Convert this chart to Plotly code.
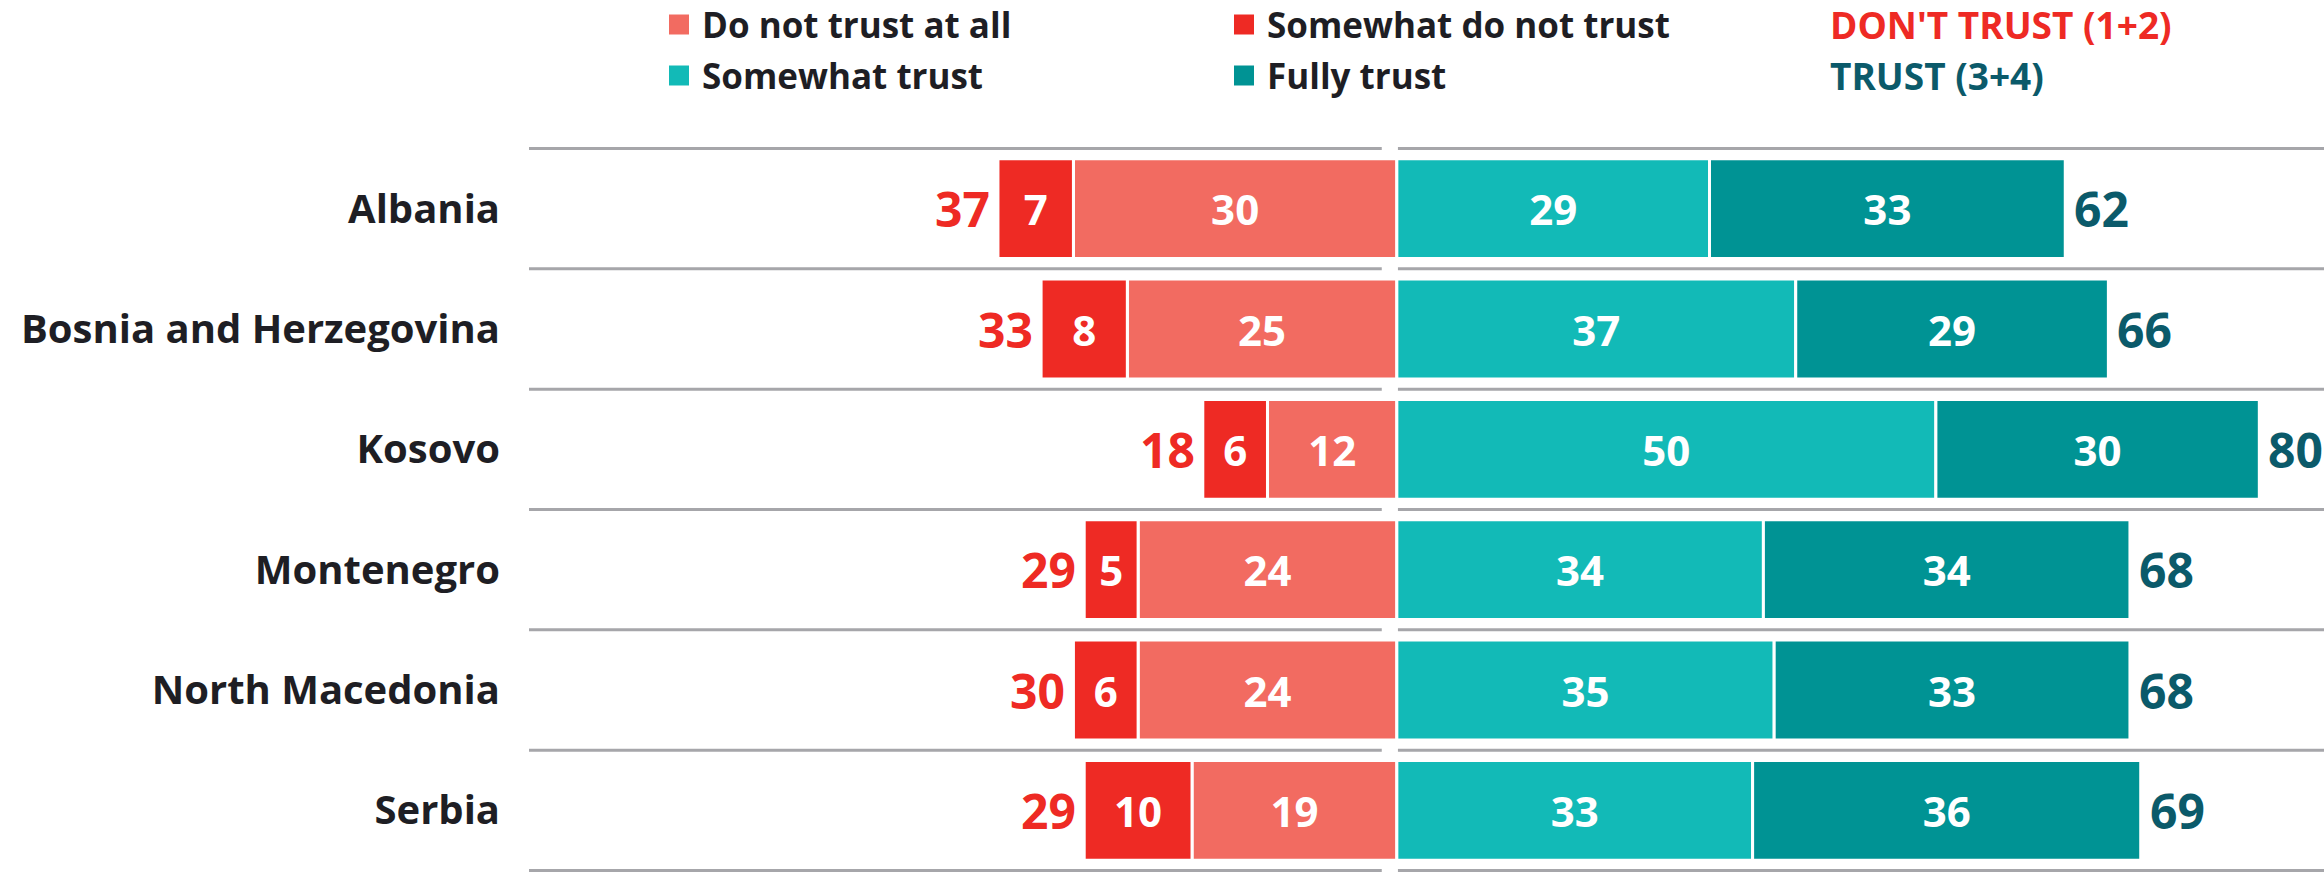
import plotly.graph_objects as go

# ---------------- data ----------------
countries = ["Albania", "Bosnia and Herzegovina", "Kosovo", "Montenegro",
             "North Macedonia", "Serbia"]
do_not_trust_at_all = [30, 25, 12, 24, 24, 19]
somewhat_do_not_trust = [7, 8, 6, 5, 6, 10]
somewhat_trust = [29, 37, 50, 34, 35, 33]
fully_trust = [33, 29, 30, 34, 33, 36]
dont_trust_total = [37, 33, 18, 29, 30, 29]
trust_total = [62, 66, 80, 68, 68, 69]

series_names = ["Do not trust at all", "Somewhat do not trust",
                "Somewhat trust", "Fully trust"]
total_names = ["DON'T TRUST (1+2)", "TRUST (3+4)"]

# ---------------- style ----------------
W, H = 2324, 872
ML, MR, MT, MB = 529, 0, 147, 0
FONT = "Open Sans"
C_SALMON = "#F26B61"
C_RED = "#EE2A24"
C_TEAL = "#12BAB7"
C_DTEAL = "#009394"
C_TRUST_TXT = "#0B5A6A"
C_TXT = "#1E1E24"
C_GRID = "#A6A6AA"
XR = [-80.5, 86.0]

fig = go.Figure()

def add_bar(name, vals, color, sign):
    fig.add_trace(go.Bar(
        name=name,
        y=countries,
        x=[sign * v for v in vals],
        text=[str(v) for v in vals],
        texttemplate="%{text}",
        textposition="inside",
        insidetextanchor="middle",
        constraintext="none",
        textangle=0,
        textfont=dict(family=FONT, size=42, color="white", weight=700),
        orientation="h",
        marker=dict(color=color, line=dict(color="white", width=3)),
        hoverinfo="skip",
        showlegend=False,
    ))

add_bar(series_names[0], do_not_trust_at_all, C_SALMON, -1)
add_bar(series_names[1], somewhat_do_not_trust, C_RED, -1)
add_bar(series_names[2], somewhat_trust, C_TEAL, 1)
add_bar(series_names[3], fully_trust, C_DTEAL, 1)

annotations = []
for c, dt, t in zip(countries, dont_trust_total, trust_total):
    annotations.append(dict(x=-dt, y=c, xref="x", yref="y", text=str(dt),
                            showarrow=False, xanchor="right", xshift=-6,
                            font=dict(family=FONT, size=48, color=C_RED, weight=700)))
    annotations.append(dict(x=t, y=c, xref="x", yref="y", text=str(t),
                            showarrow=False, xanchor="left", xshift=7,
                            font=dict(family=FONT, size=48, color=C_TRUST_TXT, weight=700)))

# ---- legend (custom, in paper coords) ----
PW = W - ML - MR
PH = H - MT - MB

def px_x(x):
    return (x - ML) / PW

def px_y(y):
    return (H - MB - y) / PH

legend_rows = [24.5, 75.5]
legend_cols = [669, 1234]
sq = 20
legend_items = [
    (series_names[0], C_SALMON, 0, 0),
    (series_names[1], C_RED, 1, 0),
    (series_names[2], C_TEAL, 0, 1),
    (series_names[3], C_DTEAL, 1, 1),
]
shapes = []
for name, color, ci, ri in legend_items:
    x0 = legend_cols[ci]
    yc = legend_rows[ri]
    shapes.append(dict(type="rect", xref="paper", yref="paper",
                       x0=px_x(x0), x1=px_x(x0 + sq),
                       y0=px_y(yc + sq / 2), y1=px_y(yc - sq / 2),
                       fillcolor=color, line=dict(width=0)))
    annotations.append(dict(x=px_x(x0 + sq + 11), y=px_y(yc), xref="paper", yref="paper",
                            text=name, showarrow=False, xanchor="left", yanchor="middle",
                            font=dict(family=FONT, size=35, color=C_TXT, weight=700)))
annotations.append(dict(x=px_x(1828), y=px_y(legend_rows[0]), xref="paper", yref="paper",
                        text=total_names[0], showarrow=False, xanchor="left", yanchor="middle",
                        font=dict(family=FONT, size=37, color=C_RED, weight=700)))
annotations.append(dict(x=px_x(1828), y=px_y(legend_rows[1]), xref="paper", yref="paper",
                        text=total_names[1], showarrow=False, xanchor="left", yanchor="middle",
                        font=dict(family=FONT, size=37, color=C_TRUST_TXT, weight=700)))

# ---- row separator lines with a gap at the centre ----
for i in range(len(countries) + 1):
    yv = i - 0.5
    shapes.append(dict(type="line", xref="x", yref="y", x0=XR[0], x1=-1.4, y0=yv, y1=yv,
                       line=dict(color=C_GRID, width=3), layer="below"))
    shapes.append(dict(type="line", xref="x", yref="y", x0=0.1, x1=XR[1], y0=yv, y1=yv,
                       line=dict(color=C_GRID, width=3), layer="below"))

fig.update_layout(
    width=W, height=H,
    margin=dict(l=ML, r=MR, t=MT, b=MB, pad=0),
    barmode="relative",
    bargap=0.17,
    paper_bgcolor="white",
    plot_bgcolor="white",
    showlegend=False,
    annotations=annotations,
    shapes=shapes,
    xaxis=dict(range=XR, visible=False, fixedrange=True),
    yaxis=dict(categoryorder="array", categoryarray=countries, autorange="reversed",
               showgrid=False, zeroline=False, showline=False, ticks="",
               ticklabelstandoff=28,
               tickfont=dict(family=FONT, size=40, color=C_TXT, weight=700),
               fixedrange=True),
)

fig.write_html(
    "out.html",
    config={"displayModeBar": False},
    post_script="document.body.style.margin='0px';document.body.style.overflow='hidden';",
)
